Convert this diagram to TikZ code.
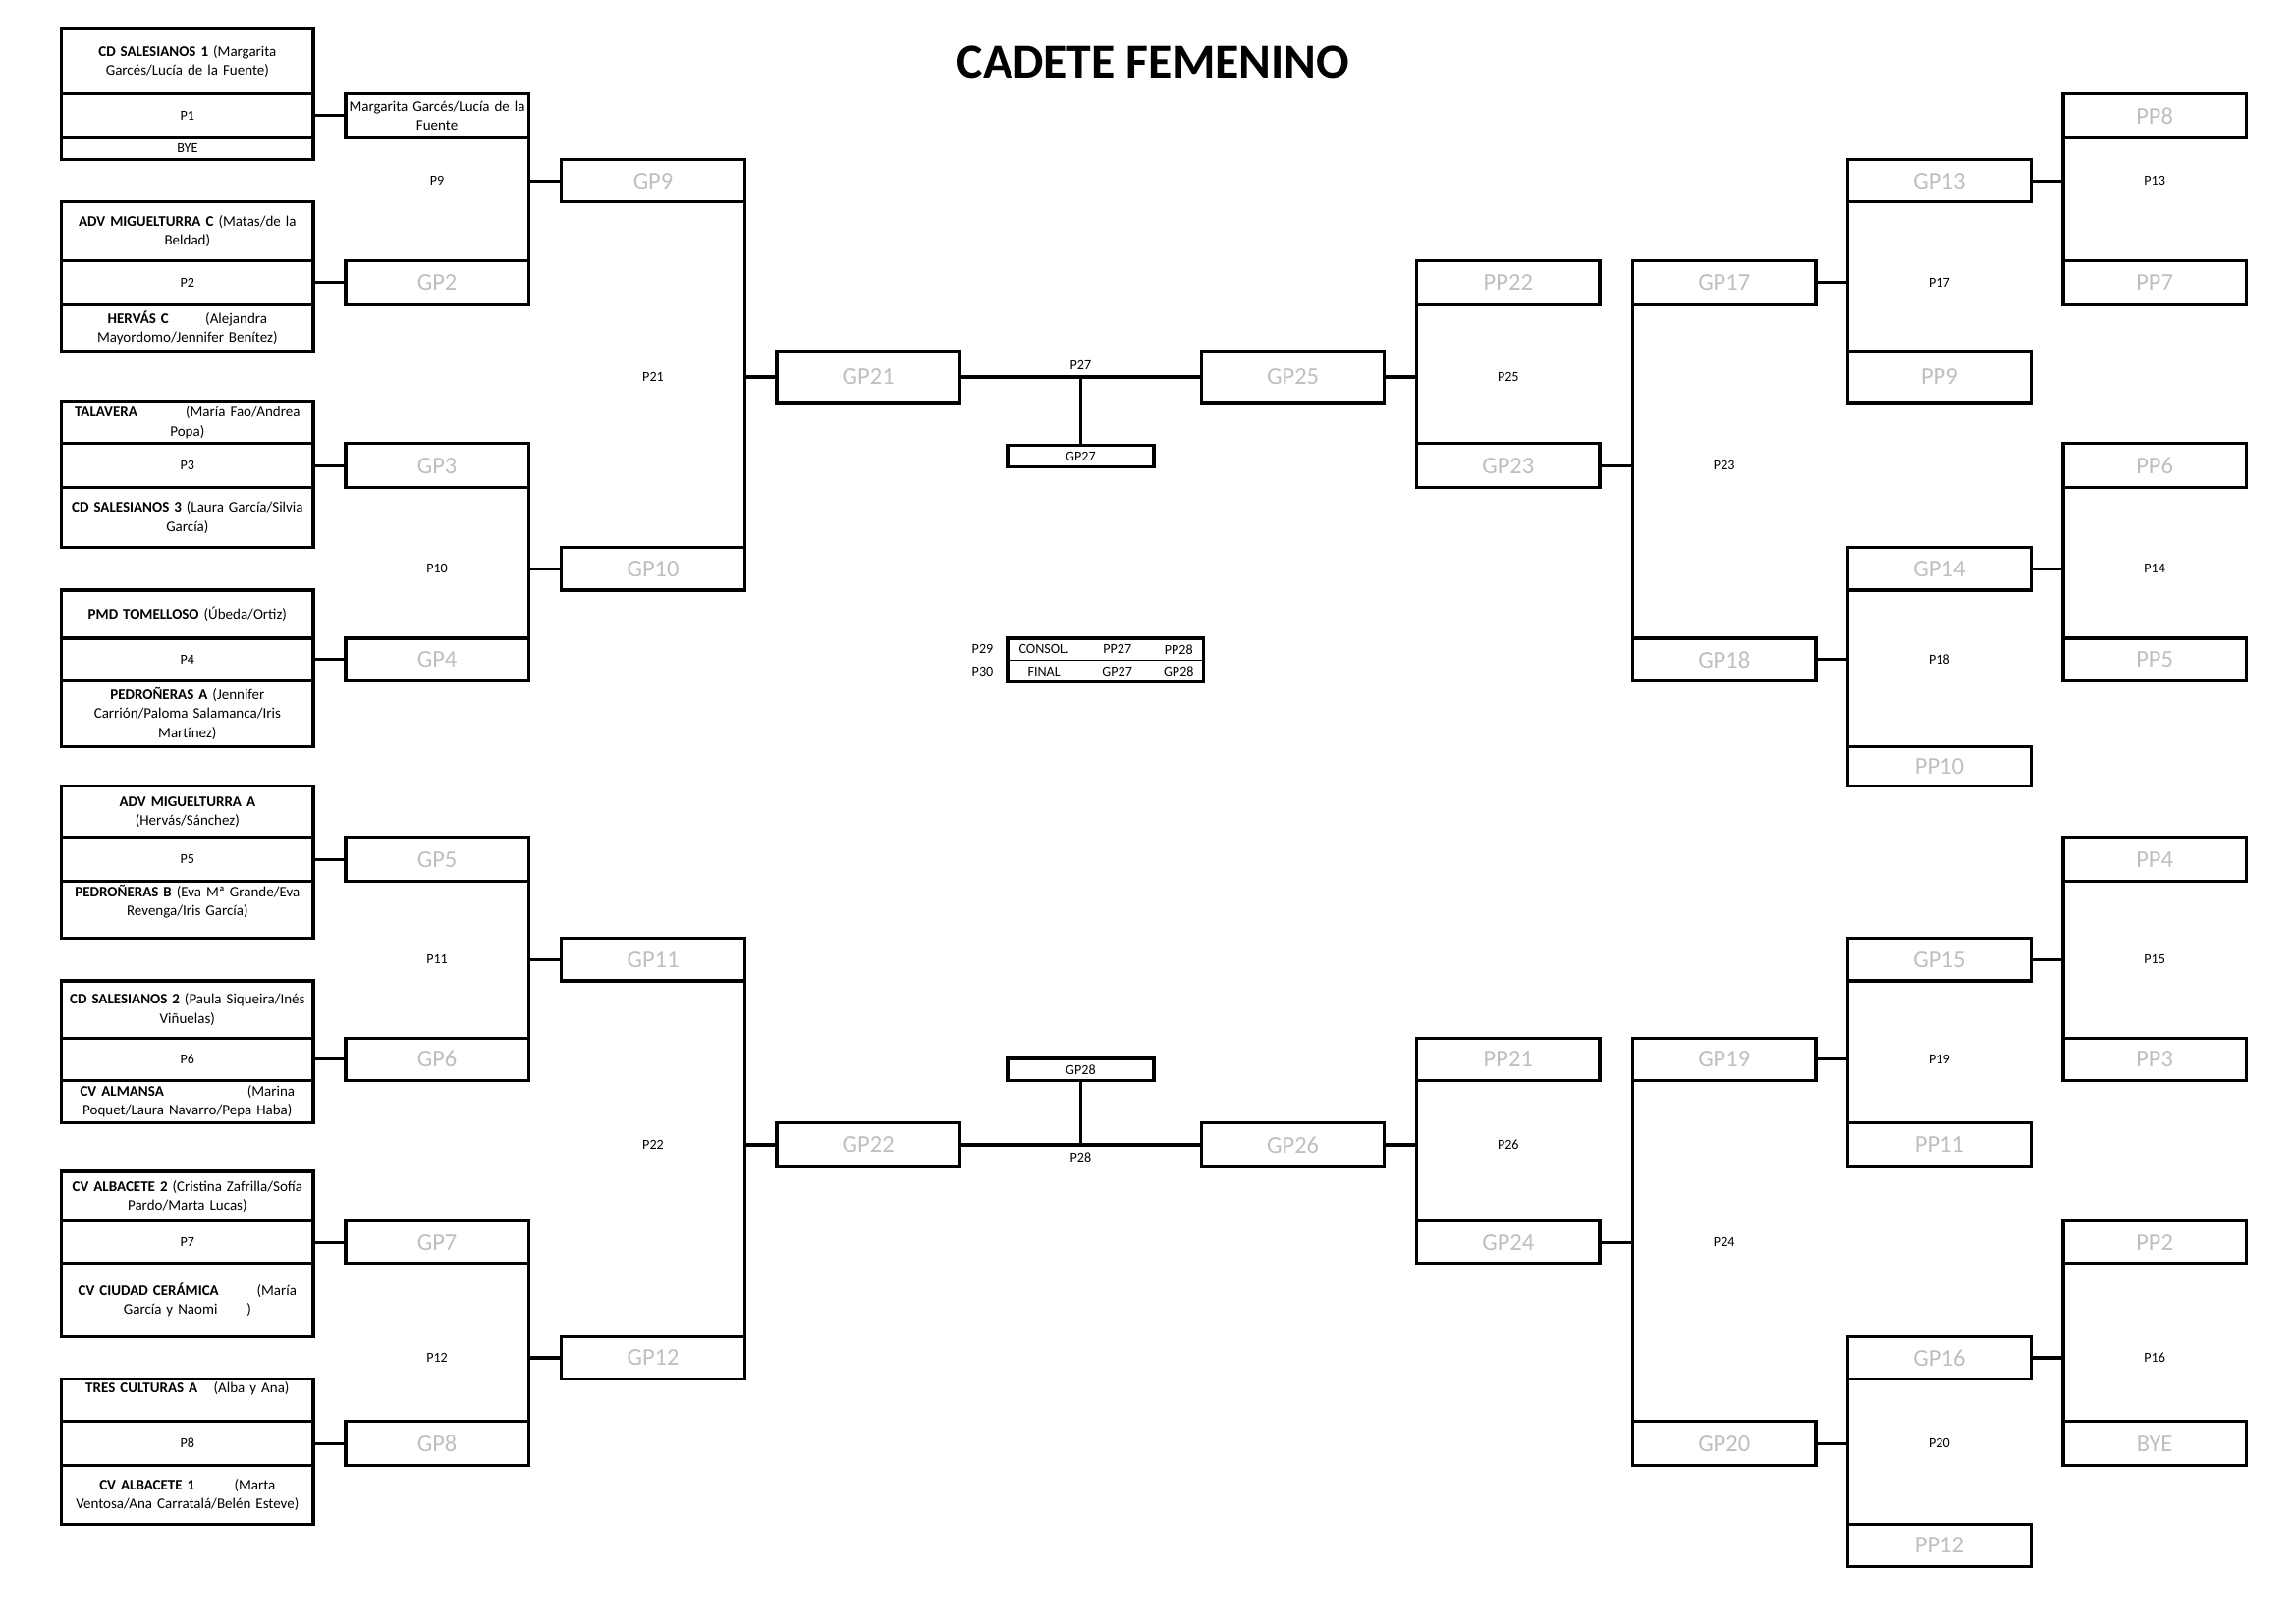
\documentclass[tikz,border=0pt]{standalone}
\usepackage{fontspec}
\setmainfont{Carlito}
\usetikzlibrary{positioning}

\definecolor{slotgray}{RGB}{191,191,191}
\newcommand{\teamfont}{\fontsize{10.1}{13}\selectfont}
\newcommand{\slotfont}{\fontsize{16.5}{19}\selectfont}
\newcommand{\smallfont}{\fontsize{9.5}{11}\selectfont}
\newcommand{\titlefont}{\fontsize{33.5}{40}\selectfont\bfseries}

\begin{document}
\begin{tikzpicture}[
    x=1bp, y=-1bp,
    box/.style={draw, line width=2.2bp, inner sep=0pt, outer sep=0pt},
    team/.style={box, text width=172bp, align=center, font=\teamfont},
    teamtext/.style={text width=172bp, align=center, font=\teamfont, inner sep=0pt},
    slot/.style={box, text width=125bp, align=center, font=\slotfont, text=slotgray},
    mini/.style={box, text width=100bp, align=center, font=\smallfont},
    plabel/.style={font=\smallfont, inner sep=0pt},
    link/.style={line width=2.2bp, line cap=rect}
]
\useasboundingbox (0,0) rectangle (1568,1109);

\node[font=\titlefont, anchor=base] (title) at (787.7,53.2) {CADETE FEMENINO};

% primera ronda (equipos)
\node[team, minimum height=44bp] (t1) at (128,42) {\textbf{CD SALESIANOS 1} (Margarita\\Garcés/Lucía de la Fuente)};
\node[team, font=\smallfont, minimum height=15bp] (bye1) at (128,101.5) {BYE};
\node[team, minimum height=40bp] (t2) at (128,158) {\textbf{ADV MIGUELTURRA C} (Matas/de la\\Beldad)};
\node[team, minimum height=32bp] (t3) at (128,224) {\textbf{HERVÁS C}\hspace{25bp}(Alejandra\\Mayordomo/Jennifer Benítez)};
\node[team, minimum height=29bp] (t4) at (128,288.5) {\textbf{TALAVERA}\hspace{33bp}(María Fao/Andrea\\Popa)};
\node[team, minimum height=41bp] (t5) at (128,353.5) {\textbf{CD SALESIANOS 3} (Laura García/Silvia\\García)};
\node[team, minimum height=33bp] (t6) at (128,419.5) {\textbf{PMD TOMELLOSO} (Úbeda/Ortiz)};
\node[team, minimum height=45bp] (t7) at (128,487.5) {\textbf{PEDROÑERAS A} (Jennifer\\Carrión/Paloma Salamanca/Iris\\Martínez)};
\node[team, minimum height=35bp] (t8) at (128,554.5) {\textbf{ADV MIGUELTURRA A}\\(Hervás/Sánchez)};
\node[team, minimum height=39bp] (t9) at (128,621.5) {};
\node[teamtext, anchor=north] (t9txt) at ([yshift=-2bp]t9.north) {\textbf{PEDROÑERAS B} (Eva Mª Grande/Eva\\Revenga/Iris García)};
\node[team, minimum height=39bp] (t10) at (128,689.5) {\textbf{CD SALESIANOS 2} (Paula Siqueira/Inés\\Viñuelas)};
\node[team, minimum height=29bp] (t11) at (128,752.5) {\textbf{CV ALMANSA}\hspace{57bp}(Marina\\Poquet/Laura Navarro/Pepa Haba)};
\node[team, minimum height=34bp] (t12) at (128,817) {\textbf{CV ALBACETE 2} (Cristina Zafrilla/Sofía\\Pardo/Marta Lucas)};
\node[team, minimum height=50bp] (t13) at (128,888) {\textbf{CV CIUDAD CERÁMICA}\hspace{26bp}(María\\García y Naomi\hspace{20bp})};
\node[team, minimum height=29bp] (t14) at (128,956.5) {};
\node[teamtext, anchor=north] (t14txt) at ([yshift=-2bp]t14.north) {\textbf{TRES CULTURAS A}\hspace{11bp}(Alba y Ana)};
\node[team, minimum height=40bp] (t15) at (128,1021) {\textbf{CV ALBACETE 1}\hspace{27bp}(Marta\\Ventosa/Ana Carratalá/Belén Esteve)};

% segunda columna
\node[slot, text=black, font=\teamfont, minimum height=30bp] (w1) at (298.5,79) {Margarita Garcés/Lucía de la\\Fuente};
\node[slot, minimum height=30bp] (gp2) at (298.5,193) {GP2};
\node[slot, minimum height=30bp] (gp3) at (298.5,318) {GP3};
\node[slot, minimum height=29bp] (gp4) at (298.5,450.5) {GP4};
\node[slot, minimum height=30bp] (gp5) at (298.5,587) {GP5};
\node[slot, minimum height=29bp] (gp6) at (298.5,723.5) {GP6};
\node[slot, minimum height=29bp] (gp7) at (298.5,848.5) {GP7};
\node[slot, minimum height=30bp] (gp8) at (298.5,986) {GP8};

% cuartos y semis izquierda
\node[slot, minimum height=29bp] (gp9) at (446,123.5) {GP9};
\node[slot, minimum height=29bp] (gp10) at (446,388.5) {GP10};
\node[slot, minimum height=29bp] (gp11) at (446,655.5) {GP11};
\node[slot, minimum height=29bp] (gp12) at (446,927.5) {GP12};
\node[slot, minimum height=35bp] (gp21) at (593,257.5) {GP21};
\node[slot, minimum height=30bp] (gp22) at (593,782) {GP22};

% centro
\node[mini, minimum height=15bp] (gp27) at (738,311.5) {GP27};
\node[mini, minimum height=15bp] (gp28) at (738,730.5) {GP28};
\node[slot, minimum height=35bp] (gp25) at (883,257.5) {GP25};
\node[slot, minimum height=30bp] (gp26) at (883,782) {GP26};

% cuadro derecho
\node[slot, minimum height=30bp] (pp22) at (1030,193) {PP22};
\node[slot, minimum height=30bp] (gp23) at (1030,318) {GP23};
\node[slot, minimum height=29bp] (pp21) at (1030,723.5) {PP21};
\node[slot, minimum height=29bp] (gp24) at (1030,848.5) {GP24};
\node[slot, minimum height=30bp] (gp17) at (1177.5,193) {GP17};
\node[slot, minimum height=29bp] (gp18) at (1177.5,450.5) {GP18};
\node[slot, minimum height=29bp] (gp19) at (1177.5,723.5) {GP19};
\node[slot, minimum height=30bp] (gp20) at (1177.5,986) {GP20};
\node[slot, minimum height=29bp] (gp13) at (1324.5,123.5) {GP13};
\node[slot, minimum height=35bp] (pp9) at (1324.5,257.5) {PP9};
\node[slot, minimum height=29bp] (gp14) at (1324.5,388.5) {GP14};
\node[slot, minimum height=27bp] (pp10) at (1324.5,523.5) {PP10};
\node[slot, minimum height=29bp] (gp15) at (1324.5,655.5) {GP15};
\node[slot, minimum height=30bp] (pp11) at (1324.5,782) {PP11};
\node[slot, minimum height=29bp] (gp16) at (1324.5,927.5) {GP16};
\node[slot, minimum height=29bp] (pp12) at (1324.5,1055.5) {PP12};
\node[slot, minimum height=30bp] (pp8) at (1471.5,79) {PP8};
\node[slot, minimum height=30bp] (pp7) at (1471.5,193) {PP7};
\node[slot, minimum height=30bp] (pp6) at (1471.5,318) {PP6};
\node[slot, minimum height=29bp] (pp5) at (1471.5,450.5) {PP5};
\node[slot, minimum height=30bp] (pp4) at (1471.5,587) {PP4};
\node[slot, minimum height=29bp] (pp3) at (1471.5,723.5) {PP3};
\node[slot, minimum height=29bp] (pp2) at (1471.5,848.5) {PP2};
\node[slot, minimum height=30bp] (bye2) at (1471.5,986) {BYE};

% partidos de la primera ronda
\draw[link] (t1.south west) -- (bye1.north west) (t1.south east) -- (bye1.north east);
\draw[link] (t1.south east |- w1.west) -- (w1.west);
\node[plabel] (p1) at (t1.south |- w1.west) {P1};
\draw[link] (t2.south west) -- (t3.north west) (t2.south east) -- (t3.north east);
\draw[link] (t2.south east |- gp2.west) -- (gp2.west);
\node[plabel] (p2) at (t2.south |- gp2.west) {P2};
\draw[link] (t4.south west) -- (t5.north west) (t4.south east) -- (t5.north east);
\draw[link] (t4.south east |- gp3.west) -- (gp3.west);
\node[plabel] (p3) at (t4.south |- gp3.west) {P3};
\draw[link] (t6.south west) -- (t7.north west) (t6.south east) -- (t7.north east);
\draw[link] (t6.south east |- gp4.west) -- (gp4.west);
\node[plabel] (p4) at (t6.south |- gp4.west) {P4};
\draw[link] (t8.south west) -- (t9.north west) (t8.south east) -- (t9.north east);
\draw[link] (t8.south east |- gp5.west) -- (gp5.west);
\node[plabel] (p5) at (t8.south |- gp5.west) {P5};
\draw[link] (t10.south west) -- (t11.north west) (t10.south east) -- (t11.north east);
\draw[link] (t10.south east |- gp6.west) -- (gp6.west);
\node[plabel] (p6) at (t10.south |- gp6.west) {P6};
\draw[link] (t12.south west) -- (t13.north west) (t12.south east) -- (t13.north east);
\draw[link] (t12.south east |- gp7.west) -- (gp7.west);
\node[plabel] (p7) at (t12.south |- gp7.west) {P7};
\draw[link] (t14.south west) -- (t15.north west) (t14.south east) -- (t15.north east);
\draw[link] (t14.south east |- gp8.west) -- (gp8.west);
\node[plabel] (p8) at (t14.south |- gp8.west) {P8};

% llaves izquierda
\draw[link] (w1.north east) -- (gp2.south east);
\draw[link] (w1.east |- gp9.west) -- (gp9.west);
\node[plabel] (p9) at (w1.center |- gp9.west) {P9};
\draw[link] (gp3.north east) -- (gp4.south east);
\draw[link] (gp3.east |- gp10.west) -- (gp10.west);
\node[plabel] (p10) at (gp3.center |- gp10.west) {P10};
\draw[link] (gp5.north east) -- (gp6.south east);
\draw[link] (gp5.east |- gp11.west) -- (gp11.west);
\node[plabel] (p11) at (gp5.center |- gp11.west) {P11};
\draw[link] (gp7.north east) -- (gp8.south east);
\draw[link] (gp7.east |- gp12.west) -- (gp12.west);
\node[plabel] (p12) at (gp7.center |- gp12.west) {P12};
\draw[link] (gp9.north east) -- (gp10.south east);
\draw[link] (gp9.east |- gp21.west) -- (gp21.west);
\node[plabel] (p21) at (gp9.center |- gp21.west) {P21};
\draw[link] (gp11.north east) -- (gp12.south east);
\draw[link] (gp11.east |- gp22.west) -- (gp22.west);
\node[plabel] (p22) at (gp11.center |- gp22.west) {P22};

% P27 y P28
\draw[link] (gp21.east) -- (gp25.west);
\coordinate (j27) at (gp27.north |- gp21.east);
\draw[link] (gp27.north) -- (j27);
\node[plabel, above=5bp of j27] (p27) {P27};
\draw[link] (gp22.east) -- (gp26.west);
\coordinate (j28) at (gp28.south |- gp22.east);
\draw[link] (gp28.south) -- (j28);
\node[plabel, below=5bp of j28] (p28) {P28};

% consolacion y final
\node[box, minimum width=134bp, minimum height=30bp] (finals) at (755,451) {};
\draw[line width=1bp] (finals.west) -- (finals.east);
\node[plabel] (p29) at (671,443.5) {P29};
\node[plabel] (consol) at (713,443.5) {CONSOL.};
\node[plabel] (pp27) at (763,443.5) {PP27};
\node[plabel] (pp28) at (805,443.5) {PP28};
\node[plabel] (p30) at (671,458.5) {P30};
\node[plabel] (final) at (713,458.5) {FINAL};
\node[plabel] (gp27ref) at (763,458.5) {GP27};
\node[plabel] (gp28ref) at (805,458.5) {GP28};

% llaves derecha
\draw[link] (pp22.north west) -- (gp23.south west);
\draw[link] (gp25.east) -- (gp25.east -| pp22.west);
\node[plabel] (p25) at (pp22.center |- gp25.east) {P25};
\draw[link] (gp17.north west) -- (gp18.south west);
\draw[link] (gp23.east) -- (gp23.east -| gp17.west);
\node[plabel] (p23) at (gp17.center |- gp23.east) {P23};
\draw[link] (gp13.north west) -- (pp9.south west);
\draw[link] (gp17.east) -- (gp17.east -| gp13.west);
\node[plabel] (p17) at (gp13.center |- gp17.east) {P17};
\draw[link] (pp8.north west) -- (pp7.south west);
\draw[link] (gp13.east) -- (gp13.east -| pp8.west);
\node[plabel] (p13) at (pp8.center |- gp13.east) {P13};
\draw[link] (gp14.north west) -- (pp10.south west);
\draw[link] (gp18.east) -- (gp18.east -| gp14.west);
\node[plabel] (p18) at (gp14.center |- gp18.east) {P18};
\draw[link] (pp6.north west) -- (pp5.south west);
\draw[link] (gp14.east) -- (gp14.east -| pp6.west);
\node[plabel] (p14) at (pp6.center |- gp14.east) {P14};
\draw[link] (pp21.north west) -- (gp24.south west);
\draw[link] (gp26.east) -- (gp26.east -| pp21.west);
\node[plabel] (p26) at (pp21.center |- gp26.east) {P26};
\draw[link] (gp19.north west) -- (gp20.south west);
\draw[link] (gp24.east) -- (gp24.east -| gp19.west);
\node[plabel] (p24) at (gp19.center |- gp24.east) {P24};
\draw[link] (gp15.north west) -- (pp11.south west);
\draw[link] (gp19.east) -- (gp19.east -| gp15.west);
\node[plabel] (p19) at (gp15.center |- gp19.east) {P19};
\draw[link] (pp4.north west) -- (pp3.south west);
\draw[link] (gp15.east) -- (gp15.east -| pp4.west);
\node[plabel] (p15) at (pp4.center |- gp15.east) {P15};
\draw[link] (gp16.north west) -- (pp12.south west);
\draw[link] (gp20.east) -- (gp20.east -| gp16.west);
\node[plabel] (p20) at (gp16.center |- gp20.east) {P20};
\draw[link] (pp2.north west) -- (bye2.south west);
\draw[link] (gp16.east) -- (gp16.east -| pp2.west);
\node[plabel] (p16) at (pp2.center |- gp16.east) {P16};

\end{tikzpicture}
\end{document}
